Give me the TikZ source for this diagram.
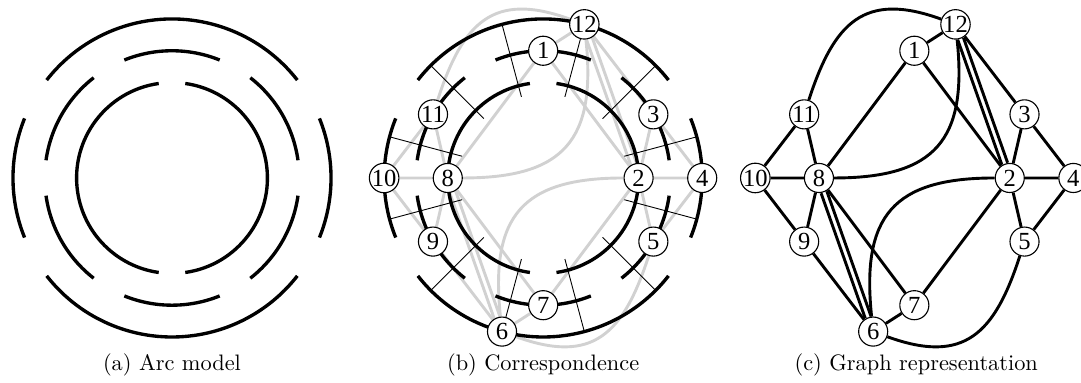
\documentclass[tikz,border=0pt]{standalone}
\usepackage{fontspec}
\usepackage{tikz}
\usetikzlibrary{positioning,backgrounds}
\newfontfamily\vertexfont{Liberation Serif}

\begin{document}
\begin{tikzpicture}[
    vertex/.style={draw, circle, fill=white, inner sep=0pt, minimum size=13pt, line width=0.5pt, font=\vertexfont\fontsize{11}{11}\selectfont},
    arcseg/.style={line width=1.5pt},
    link/.style={line width=1.3pt},
    cut/.style={line width=0.4pt},
    caption/.style={anchor=base, font=\normalsize},
]
\useasboundingbox (-2.704,-3.223) rectangle (14.29,2.798);

% (a) arc model and (b) correspondence: same arcs
\foreach \x in {0, 5.835} {
  \begin{scope}[xshift=\x cm]
  \foreach \s/\e/\r in {98/262/1.5, -82/82/1.5, 8/52/2, 68/112/2, 128/172/2, 188/232/2,
                        248/292/2, 308/352/2, 38/142/2.5, 158/202/2.5, 218/322/2.5, -22/22/2.5}
    \draw[arcseg] (\s:\r) arc[start angle=\s, end angle=\e, radius=\r];
  \end{scope}
}

% cliques of overlapping arcs
\begin{scope}[xshift=5.835cm]
\foreach \a in {15,45,...,345}
  \draw[cut] (\a:1.32) -- (\a:2.5);
\end{scope}

% vertices in (b) and (c)
\foreach \p/\x in {b/5.835, c/11.67} {
  \begin{scope}[xshift=\x cm]
  \node[vertex] (\p1) at (90:2) {1};
  \node[vertex] (\p2) at (0:1.5) {2};
  \node[vertex] (\p3) at (30:2) {3};
  \node[vertex] (\p4) at (0:2.5) {4};
  \node[vertex] (\p5) at (-30:2) {5};
  \node[vertex] (\p6) at (255:2.5) {6};
  \node[vertex] (\p7) at (270:2) {7};
  \node[vertex] (\p8) at (180:1.5) {8};
  \node[vertex] (\p9) at (210:2) {9};
  \node[vertex] (\p10) at (180:2.5) {10};
  \node[vertex] (\p11) at (150:2) {11};
  \node[vertex] (\p12) at (75:2.5) {12};
  \end{scope}
}

% edges, grey in (b), black in (c)
\begin{scope}[on background layer]
\foreach \p/\col in {b/black!18, c/black} {
  \draw[link, draw=\col] (\p12) -- (\p1)  (\p12) -- (\p3)  (\p1) -- (\p8)  (\p1) -- (\p2)
        (\p3) -- (\p2)  (\p3) -- (\p4)  (\p2) -- (\p4)  (\p2) -- (\p5)  (\p5) -- (\p4)
        (\p2) -- (\p7)  (\p7) -- (\p6)  (\p8) -- (\p7)  (\p8) -- (\p9)  (\p9) -- (\p6)
        (\p10) -- (\p9)  (\p10) -- (\p11)  (\p11) -- (\p8)  (\p10) -- (\p8);
  \draw[link, draw=\col] (\p12) to[out=160, in=72, looseness=1.35] (\p11)
        (\p12) to[out=-84, in=0, looseness=1.4] (\p8)
        (\p6) to[out=96, in=180, looseness=1.4] (\p2)
        (\p6) to[out=-20, in=-108, looseness=1.35] (\p5);
  \draw[link, draw=\col, transform canvas={shift={(0.045,0.016)}}] (\p12) -- (\p2)  (\p8) -- (\p6);
  \draw[link, draw=\col, transform canvas={shift={(-0.045,-0.016)}}] (\p12) -- (\p2)  (\p8) -- (\p6);
}
\end{scope}

\node[caption] (capa) at (0,-3.02) {(a) Arc model};
\node[caption] (capb) at (5.835,-3.02) {(b) Correspondence};
\node[caption] (capc) at (11.7,-3.02) {(c) Graph representation};
\end{tikzpicture}
\end{document}
